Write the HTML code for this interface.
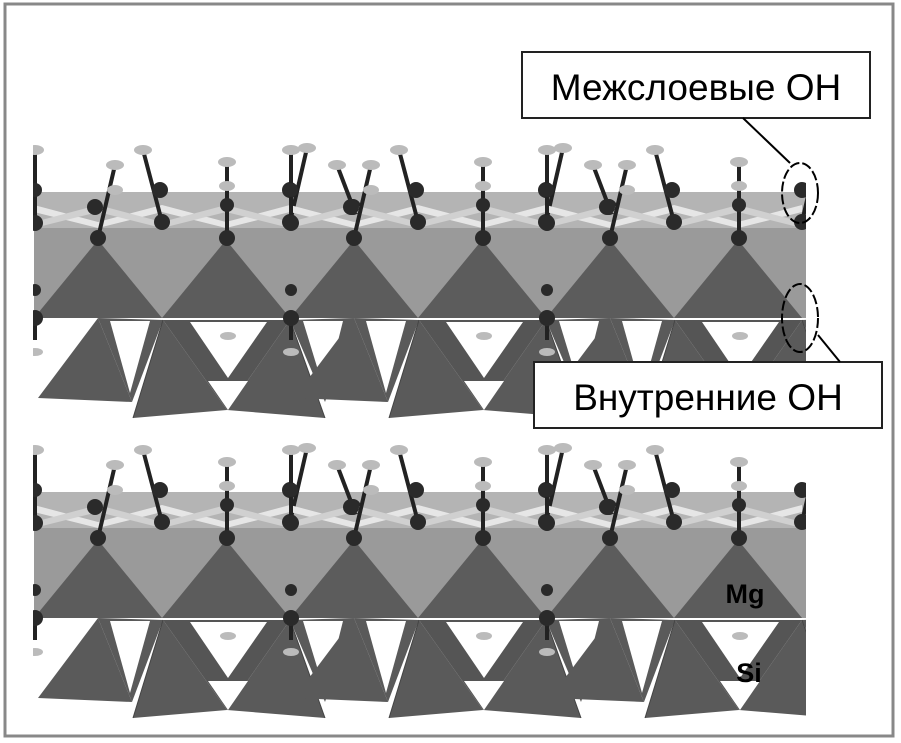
<!DOCTYPE html>
<html><head><meta charset="utf-8"><style>
html,body{margin:0;padding:0;background:#fff;}
svg{display:block;}
</style></head><body>
<svg width="901" height="743" viewBox="0 0 901 743" xmlns="http://www.w3.org/2000/svg">
<defs>
  <clipPath id="cl"><rect x="33" y="0" width="773" height="743"/></clipPath>
  <g id="per">
    <polygon points="98,240 34,318 162,318" fill="#5c5c5c"/>
    <polygon points="226,240 162,318 290,318" fill="#5c5c5c"/>
    <polygon points="34,205 98,222 162,205 226,222 290,205 290,212 226,228 162,212 98,228 34,212" fill="#e6e6e6"/>
    <polygon points="34,222 98,205 162,222 226,205 290,222 290,228 226,212 162,228 98,212 34,228" fill="#d0d0d0"/>
    <!-- tetra -->
    <polygon points="98,318 38,398 132,402" fill="#5a5a5a"/>
    <polygon points="98,318 163,320 132,402" fill="#5a5a5a"/>
    <polygon points="163,320 133,418 227,410" fill="#5a5a5a"/>
    <polygon points="290,320 227,410 325,418" fill="#5a5a5a"/>
    <polygon points="290,320 354,318 325,402" fill="#5a5a5a"/>
    <polygon points="163,320 290,320 227,410" fill="#555"/>
    <polygon points="110,321 150,321 130,393" fill="#fff"/>
    <polygon points="303,321 343,321 325,393" fill="#fff"/>
    <polygon points="190,322 267,322 228,378" fill="#fff"/>
    <polygon points="208,381 248,381 228,410" fill="#fff"/>
    <g stroke="#444" stroke-width="1">
      <line x1="163" y1="320" x2="133" y2="418"/>
      <line x1="290" y1="320" x2="325" y2="418"/>
    </g>
    <g stroke="#222" stroke-width="4">
      <line x1="98" y1="238" x2="115" y2="165"/>
      <line x1="162" y1="222" x2="143" y2="150"/>
      <line x1="290" y1="222" x2="307" y2="148"/>
      <line x1="227" y1="238" x2="227" y2="162"/>
      <line x1="353" y1="207" x2="337" y2="165"/>
      <line x1="35" y1="223" x2="35" y2="150"/>
      <line x1="35" y1="318" x2="35" y2="340"/>
    </g>
    <g fill="#bbb">
      <ellipse cx="35" cy="150" rx="9" ry="5"/>
      <ellipse cx="115" cy="165" rx="9" ry="5"/>
      <ellipse cx="143" cy="150" rx="9" ry="5"/>
      <ellipse cx="227" cy="162" rx="9" ry="5"/>
      <ellipse cx="307" cy="148" rx="9" ry="5"/>
      <ellipse cx="337" cy="165" rx="9" ry="5"/>
      <ellipse cx="35" cy="352" rx="8" ry="4"/>
      <ellipse cx="228" cy="336" rx="8" ry="4"/>
      <ellipse cx="115" cy="190" rx="8" ry="5"/>
      <ellipse cx="227" cy="186" rx="8" ry="5"/>
    </g>
    <g fill="#2a2a2a">
      <circle cx="98" cy="238" r="8"/>
      <circle cx="162" cy="222" r="8"/>
      <circle cx="227" cy="238" r="8"/>
      <circle cx="290" cy="222" r="8"/>
      <circle cx="35" cy="223" r="8"/>
      <circle cx="95" cy="207" r="8"/>
      <circle cx="160" cy="190" r="8"/>
      <circle cx="290" cy="190" r="8"/>
      <circle cx="353" cy="207" r="8"/>
      <circle cx="35" cy="190" r="7"/>
      <circle cx="227" cy="205" r="7"/>
      <circle cx="35" cy="318" r="8"/>
      <circle cx="35" cy="290" r="6"/>
    </g>
  </g>
  <g id="layer">
    <rect x="34" y="192" width="772" height="36" fill="#b4b4b4"/>
    <rect x="34" y="228" width="772" height="90" fill="#9a9a9a"/>
    <g clip-path="url(#cl)">
      <use href="#per"/>
      <use href="#per" transform="translate(256,0)"/>
      <use href="#per" transform="translate(512,0)"/>
    </g>
  </g>
</defs>
<rect x="5" y="4" width="888" height="732" fill="#fff" stroke="#888" stroke-width="3"/>
<use href="#layer"/>
<use href="#layer" transform="translate(0,300)"/>
<rect x="522" y="52" width="348" height="66" fill="#fff" stroke="#222" stroke-width="2"/>
<text x="696" y="100" text-anchor="middle" font-family="Liberation Sans, sans-serif" font-size="37" fill="#000">Межслоевые ОН</text>
<rect x="534" y="362" width="348" height="66" fill="#fff" stroke="#222" stroke-width="2"/>
<text x="708" y="410" text-anchor="middle" font-family="Liberation Sans, sans-serif" font-size="37" fill="#000">Внутренние ОН</text>
<line x1="743" y1="118" x2="790" y2="163" stroke="#000" stroke-width="2"/>
<line x1="818" y1="335" x2="840" y2="362" stroke="#000" stroke-width="2"/>
<ellipse cx="800" cy="193" rx="18" ry="30" fill="none" stroke="#000" stroke-width="2" stroke-dasharray="10,3"/>
<ellipse cx="800" cy="318" rx="18" ry="34" fill="none" stroke="#000" stroke-width="2" stroke-dasharray="10,3"/>
<text x="745" y="603" text-anchor="middle" font-family="Liberation Sans, sans-serif" font-weight="bold" font-size="27" fill="#000">Mg</text>
<text x="749" y="682" text-anchor="middle" font-family="Liberation Sans, sans-serif" font-weight="bold" font-size="27" fill="#000">Si</text>
</svg>
</body></html>
